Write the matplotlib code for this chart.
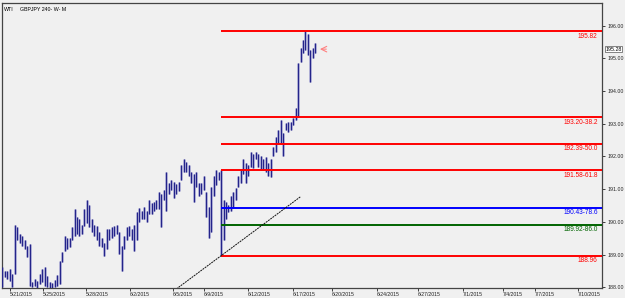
import matplotlib
matplotlib.use("Agg")
import matplotlib.pyplot as plt

# 4h bars of GBPJPY (high / low)
highs = [188.61, 188.49, 188.49, 188.55, 188.40, 189.92, 189.83, 189.62, 189.56, 189.46,
         189.25, 189.31, 188.15, 188.25, 188.18, 188.40, 188.55, 188.61, 188.34, 188.15,
         188.12, 188.21, 188.37, 188.79, 189.07, 189.56, 189.52, 189.52, 189.83, 190.38,
         190.14, 190.08, 189.92, 190.38, 190.68, 190.53, 190.08, 189.92, 189.86, 189.68,
         189.52, 189.37, 189.77, 189.77, 189.83, 189.86, 189.92, 189.68, 189.25, 189.56,
         189.83, 189.86, 189.77, 189.92, 190.29, 190.44, 190.32, 190.47, 190.32, 190.68,
         190.59, 190.62, 190.68, 190.90, 190.84, 190.99, 191.51, 191.20, 191.29, 191.23,
         191.17, 191.23, 191.75, 191.91, 191.84, 191.75, 191.54, 191.45, 191.51, 191.20,
         191.20, 191.39, 190.90, 190.47, 191.08, 191.39, 191.60, 191.54, 191.58, 190.68,
         190.62, 190.53, 190.78, 190.90, 191.05, 191.39, 191.60, 191.91, 191.81, 191.75,
         192.15, 192.06, 192.15, 192.06, 192.00, 191.91, 191.97, 191.81, 191.91, 192.30,
         192.60, 192.82, 193.12, 192.73, 193.03, 193.06, 193.06, 193.18, 193.49, 194.86,
         195.32, 195.56, 195.82, 195.75, 195.26, 195.32, 195.47]
lows = [188.00, 188.31, 188.25, 188.18, 188.00, 188.40, 189.46, 189.37, 189.25, 189.16,
        188.92, 188.03, 188.00, 188.03, 187.97, 188.09, 188.15, 188.03, 188.00, 187.94,
        187.94, 188.00, 188.03, 188.09, 188.76, 189.10, 189.16, 189.22, 189.46, 189.56,
        189.62, 189.56, 189.62, 189.86, 189.98, 189.83, 189.68, 189.56, 189.46, 189.25,
        189.22, 188.95, 189.16, 189.46, 189.52, 189.56, 189.62, 189.01, 188.49, 189.16,
        189.46, 189.56, 189.46, 189.10, 189.46, 190.01, 190.08, 190.08, 190.01, 190.23,
        190.23, 190.32, 190.38, 190.38, 189.83, 190.68, 190.32, 190.84, 190.99, 190.74,
        190.84, 190.93, 191.29, 191.54, 191.51, 191.39, 191.20, 190.62, 191.08, 190.78,
        190.84, 190.99, 190.14, 189.52, 189.68, 190.78, 191.14, 191.29, 188.96, 189.46,
        190.08, 190.29, 190.32, 190.44, 190.68, 191.08, 191.20, 191.45, 191.20, 191.39,
        191.69, 191.66, 191.91, 191.69, 191.60, 191.60, 191.51, 191.39, 191.36, 192.00,
        192.15, 192.42, 192.42, 192.00, 192.82, 192.76, 192.82, 192.97, 193.12, 193.21,
        194.89, 195.16, 195.26, 195.10, 194.28, 195.01, 195.16]
last_price = 195.28

# fibonacci levels drawn from the 188.96 low to the 195.82 high
fib_start = 88
fib_levels = [195.82, 193.20, 192.39, 191.58, 190.43, 189.92, 188.96]
fib_labels = ["195.82", "193.20-38.2", "192.39-50.0", "191.58-61.8",
              "190.43-78.6", "189.92-86.0", "188.96"]
fib_colors = ["red", "red", "red", "red", "blue", "darkgreen", "red"]

# trendline under the lows
trend_x = [70, 120]
trend_y = [187.95, 190.77]

# x ticks (bar index) and their date labels
xtick_pos = [3, 16.3, 33.6, 51.3, 68.6, 81.1, 98.9, 117, 132.7, 150.8,
             167.3, 185.4, 201.5, 214.4, 231.8]
xtick_labels = ["5/21/2015", "5/25/2015", "5/28/2015", "6/2/2015", "6/5/2015",
                "6/9/2015", "6/12/2015", "6/17/2015", "6/20/2015", "6/24/2015",
                "6/27/2015", "7/1/2015", "7/4/2015", "7/7/2015", "7/10/2015"]
ytick_pos = [188, 189, 190, 191, 192, 193, 194, 195, 196]

plt.rcParams['font.family'] = ['Liberation Sans', 'DejaVu Sans']

bg = "#f0f0f0"
fig = plt.figure(figsize=(6.25, 2.98), dpi=100, facecolor=bg)
ax = fig.add_axes([2 / 625, 10 / 298, 600 / 625, 285 / 298], facecolor=bg)

x = list(range(len(highs)))
ax.vlines(x, lows, highs, color="#a4a4d2", lw=1.8, zorder=2)
ax.vlines(x, lows, highs, color="#24248a", lw=0.8, zorder=3)

xmax = 241.4
for lvl, lab, col in zip(fib_levels, fib_labels, fib_colors):
    ax.hlines(lvl, fib_start, xmax, color=col, lw=1.4, zorder=4)
    ax.text(xmax - 1.8, lvl - 0.04, lab, color=col, fontsize=4.7,
            ha="right", va="top", zorder=5)

ax.plot(trend_x, trend_y, color="#111111", lw=0.7, ls=(0, (2, 0.8)), zorder=4)

# little arrow next to the last bar
ax.annotate("", xy=(len(highs) - 0.3, last_price), xytext=(len(highs) + 4.5, last_price),
            arrowprops=dict(arrowstyle="->", color="#ff8080", lw=0.8))

ax.text(0.004, 0.985, "WTI", transform=ax.transAxes, fontsize=3.8, va="top")
ax.text(0.03, 0.985, "GBPJPY 240- W- M", transform=ax.transAxes, fontsize=3.8, va="top")

ax.set_xlim(-0.2, xmax)
ax.set_ylim(187.98, 196.69)

ax.yaxis.tick_right()
ax.set_yticks(ytick_pos, [f"{v:.2f}" for v in ytick_pos])
ax.tick_params(axis="y", labelsize=3.8, length=2.5, width=0.6, pad=1.5, colors="#222222")
ax.set_xticks(xtick_pos, xtick_labels)
for t in ax.get_xticklabels():
    t.set_horizontalalignment("left")
ax.tick_params(axis="x", labelsize=3.7, length=2.5, width=0.6, pad=0.5, colors="#222222")

ax.annotate(f"{last_price:.2f}", xy=(1.0, last_price), xycoords=("axes fraction", "data"),
            xytext=(2.5, 0), textcoords="offset points", fontsize=3.8, va="center",
            bbox=dict(boxstyle="square,pad=0.12", fc="white", ec="#555555", lw=0.5))

for side in ["top", "left", "right", "bottom"]:
    ax.spines[side].set_color("#444444")
    ax.spines[side].set_linewidth(0.9)

fig.savefig("out.png", dpi=100, facecolor=bg)
